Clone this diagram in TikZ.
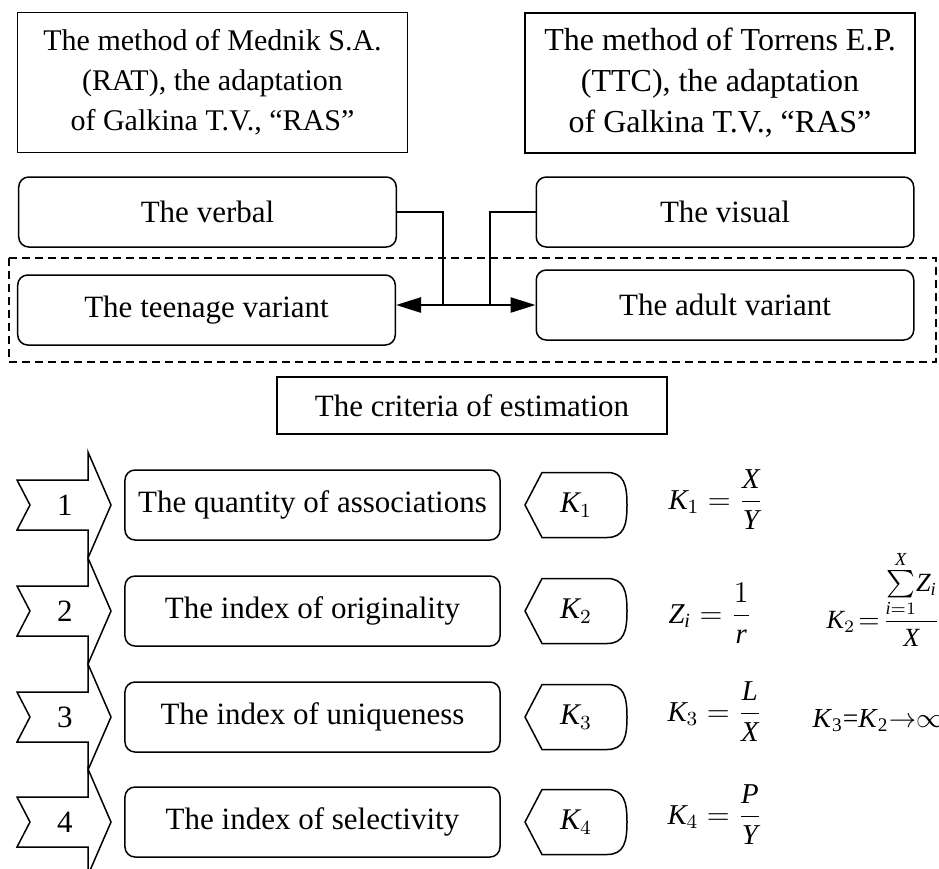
\documentclass[tikz,border=0pt]{standalone}
\usepackage{amsmath}
\usepackage{fontspec}
\setmainfont{Liberation Serif}
\edef\mainfam{\rmdefault}
\DeclareSymbolFont{timesit}{TU}{\mainfam}{m}{it}
\DeclareMathSymbol{K}{\mathalpha}{timesit}{`K}
\DeclareMathSymbol{X}{\mathalpha}{timesit}{`X}
\DeclareMathSymbol{Y}{\mathalpha}{timesit}{`Y}
\DeclareMathSymbol{Z}{\mathalpha}{timesit}{`Z}
\DeclareMathSymbol{L}{\mathalpha}{timesit}{`L}
\DeclareMathSymbol{P}{\mathalpha}{timesit}{`P}
\DeclareMathSymbol{r}{\mathalpha}{timesit}{`r}
\DeclareMathSymbol{i}{\mathalpha}{timesit}{`i}
\usetikzlibrary{positioning,arrows.meta}

\begin{document}
\begin{tikzpicture}[
  x=0.4pt, y=-0.4pt,
  font=\fontsize{12.4}{15}\selectfont,
  methodbox/.style={draw, line width=0.7pt, align=center, inner sep=0pt,
    minimum width=156pt, minimum height=56pt},
  modebox/.style={draw, line width=0.6pt, rounded corners=4pt,
    minimum width=151pt, minimum height=28pt, inner sep=0pt},
  critbox/.style={modebox, minimum width=150pt},
  titlebox/.style={draw, line width=0.6pt,
    minimum width=156pt, minimum height=22.8pt, inner sep=0pt},
  numtag/.style={inner sep=0pt},
  klabel/.style={inner sep=0pt, font=\fontsize{12}{14}\selectfont},
  formula/.style={anchor=base west, inner sep=0pt,
    font=\fontsize{11.5}{14}\selectfont},
  shapeline/.style={draw, line width=0.6pt, line join=miter},
  grpline/.style={draw, line width=0.6pt, dash pattern=on 3.2pt off 2pt},
  link/.style={draw, line width=0.55pt},
  duallink/.style={draw, line width=1pt,
    {Triangle[length=10pt,width=6pt]}-{Triangle[length=10pt,width=6pt]}},
]
\useasboundingbox (0,0) rectangle (939,868);

% --- methods ---
\node[methodbox, font=\fontsize{12}{16}\selectfont] (mednik) at (212.5,82.5)
  {The method of Mednik S.A.\\(RAT), the adaptation\\of Galkina T.V., ``RAS''};
\node[methodbox, font=\fontsize{12.8}{16.4}\selectfont] (torrens) at (720,83)
  {The method of Torrens E.P.\\(TTC), the adaptation\\of Galkina T.V., ``RAS''};

% --- variants ---
\node[modebox] (verbal) at (207.5,212) {The verbal};
\node[modebox] (visual) at (725,212) {The visual};
\node[modebox] (teen) at (206.5,310) {The teenage variant};
\node[modebox] (adult) at (725,305) {The adult variant};
\draw[grpline] (9,258) rectangle (936,362);

\coordinate (jv) at (443,305);
\coordinate (jz) at (490,305);
\draw[link] (verbal.east) -| (jv);
\draw[link] (visual.west) -| (jz);
\draw[duallink] (jv -| teen.east) -- (jv -| adult.west);

% --- criteria ---
\node[titlebox] (crit) at (472,405.5) {The criteria of estimation};

\foreach \i/\y/\txt in {1/505/The quantity of associations,
                        2/611/The index of originality,
                        3/717/The index of uniqueness,
                        4/822/The index of selectivity} {
  \begin{scope}[shift={(0,\y)}]
    \draw[shapeline] (17,-25) -- (88,-25) -- (88,-53) -- (111,0) -- (88,53)
      -- (88,25) -- (17,25) -- (30,0) -- cycle;
    \draw[shapeline] (525,0) -- (542,-32.5) -- (607,-32.5)
      .. controls (624,-32.5) and (627,-20) .. (627,0)
      .. controls (627,20) and (624,32.5) .. (607,32.5) -- (542,32.5) -- cycle;
  \end{scope}
  \node[numtag] (n\i) at (65,\y) {\i};
  \node[critbox] (c\i) at (312.5,\y) {\txt};
  \node[klabel] (k\i) at (576,\y) {$K_\i$};
}

% --- formulas ---
\node[formula] (f1) at (668,509) {$K_1 = \dfrac{X}{Y}$};
\node[formula] (f2) at (668,623) {$Z_i = \dfrac{1}{r}$};
\node[formula, font=\fontsize{10.5}{13}\selectfont] (f2s) at (826,628)
  {$K_2\!=\!\dfrac{\sum\limits_{i=1}^{X}\!Z_i}{X}$};
\node[formula] (f3) at (667,721) {$K_3 = \dfrac{L}{X}$};
\node[formula, font=\fontsize{11}{13}\selectfont] (f3b) at (812,727)
  {\textit{K}\textsubscript{3}=\textit{K}\textsubscript{2}$\rightarrow$$\infty$};
\node[formula] (f4) at (667,824) {$K_4 = \dfrac{P}{Y}$};

\end{tikzpicture}
\end{document}
